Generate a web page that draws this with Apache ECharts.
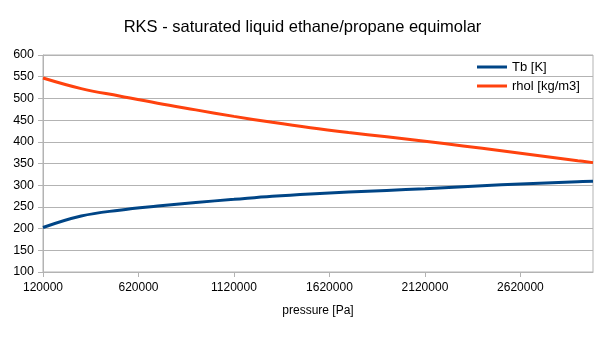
<!DOCTYPE html>
<html>
<head>
<meta charset="utf-8">
<script src="https://cdn.jsdelivr.net/npm/echarts@6/dist/echarts.min.js"></script>
<style>
  html, body { margin: 0; padding: 0; background: #ffffff; }
  #chart { width: 605px; height: 340px; }
</style>
</head>
<body>
<div id="chart"></div>
<script>
// Saturated liquid properties of an equimolar ethane/propane mixture (RKS EoS)
var pressure = [120000, 320000, 520000, 720000, 920000, 1120000, 1320000, 1520000, 1720000, 1920000, 2120000, 2320000, 2520000, 2720000, 2920000, 3000000];
var tb = [202.5, 229, 242.5, 252, 260.2, 267.4, 274.5, 280, 284.2, 288, 292, 296.5, 300.8, 304.5, 308, 309.3];
var rhol = [547, 522.6, 505.5, 488.8, 473.6, 458.6, 445, 432.5, 421.5, 411.5, 401.3, 390.5, 379.5, 368.1, 356.5, 352];
var seriesNames = ['Tb [K]', 'rhol [kg/m3]'];

function pairs(xs, ys) {
  return xs.map(function (x, i) { return [x, ys[i]]; });
}

var FONT = '"Liberation Sans", Arial, sans-serif';
var GRID = '#b3b3b3';
var chart = echarts.init(document.getElementById('chart'), null, { renderer: 'canvas' });

chart.setOption({
  backgroundColor: '#ffffff',
  animation: false,
  title: {
    text: 'RKS - saturated liquid ethane/propane equimolar',
    left: 'center',
    top: 14,
    textStyle: { fontFamily: FONT, fontSize: 16.5, fontWeight: 'normal', color: '#000000' }
  },
  legend: {
    orient: 'vertical',
    left: 472,
    top: 55,
    itemWidth: 30,
    itemHeight: 3,
    itemGap: 5,
    icon: 'rect',
    textStyle: { fontFamily: FONT, fontSize: 13, color: '#000000', lineHeight: 14 },
    data: seriesNames
  },
  grid: {
    left: 43, right: 12, top: 55, bottom: 68,
    show: true, borderColor: GRID, borderWidth: 1
  },
  xAxis: {
    type: 'value',
    min: 120000,
    max: 3000000,
    interval: 500000,
    name: 'pressure [Pa]',
    nameLocation: 'middle',
    nameGap: 33,
    nameTextStyle: { fontFamily: FONT, fontSize: 12, color: '#000000' },
    axisLine: { show: true, lineStyle: { color: GRID } },
    axisTick: { show: true, length: 5, lineStyle: { color: GRID } },
    splitLine: { show: false },
    axisLabel: {
      fontFamily: FONT, fontSize: 12, color: '#000000', margin: 10,
      showMaxLabel: false,
      formatter: function (v) { return String(v); }
    }
  },
  yAxis: {
    type: 'value',
    min: 100,
    max: 600,
    interval: 50,
    axisLine: { show: true, lineStyle: { color: GRID } },
    axisTick: { show: true, length: 5, lineStyle: { color: GRID } },
    splitLine: { show: true, lineStyle: { color: GRID } },
    axisLabel: { fontFamily: FONT, fontSize: 12.5, color: '#000000', margin: 9 }
  },
  series: [
    {
      name: seriesNames[0],
      type: 'line',
      data: pairs(pressure, tb),
      smooth: 0.4,
      showSymbol: false,
      symbol: 'none',
      color: '#004586',
      lineStyle: { width: 3, color: '#004586' }
    },
    {
      name: seriesNames[1],
      type: 'line',
      data: pairs(pressure, rhol),
      smooth: 0.4,
      showSymbol: false,
      symbol: 'none',
      color: '#ff420e',
      lineStyle: { width: 3, color: '#ff420e' }
    }
  ]
});
</script>
</body>
</html>
